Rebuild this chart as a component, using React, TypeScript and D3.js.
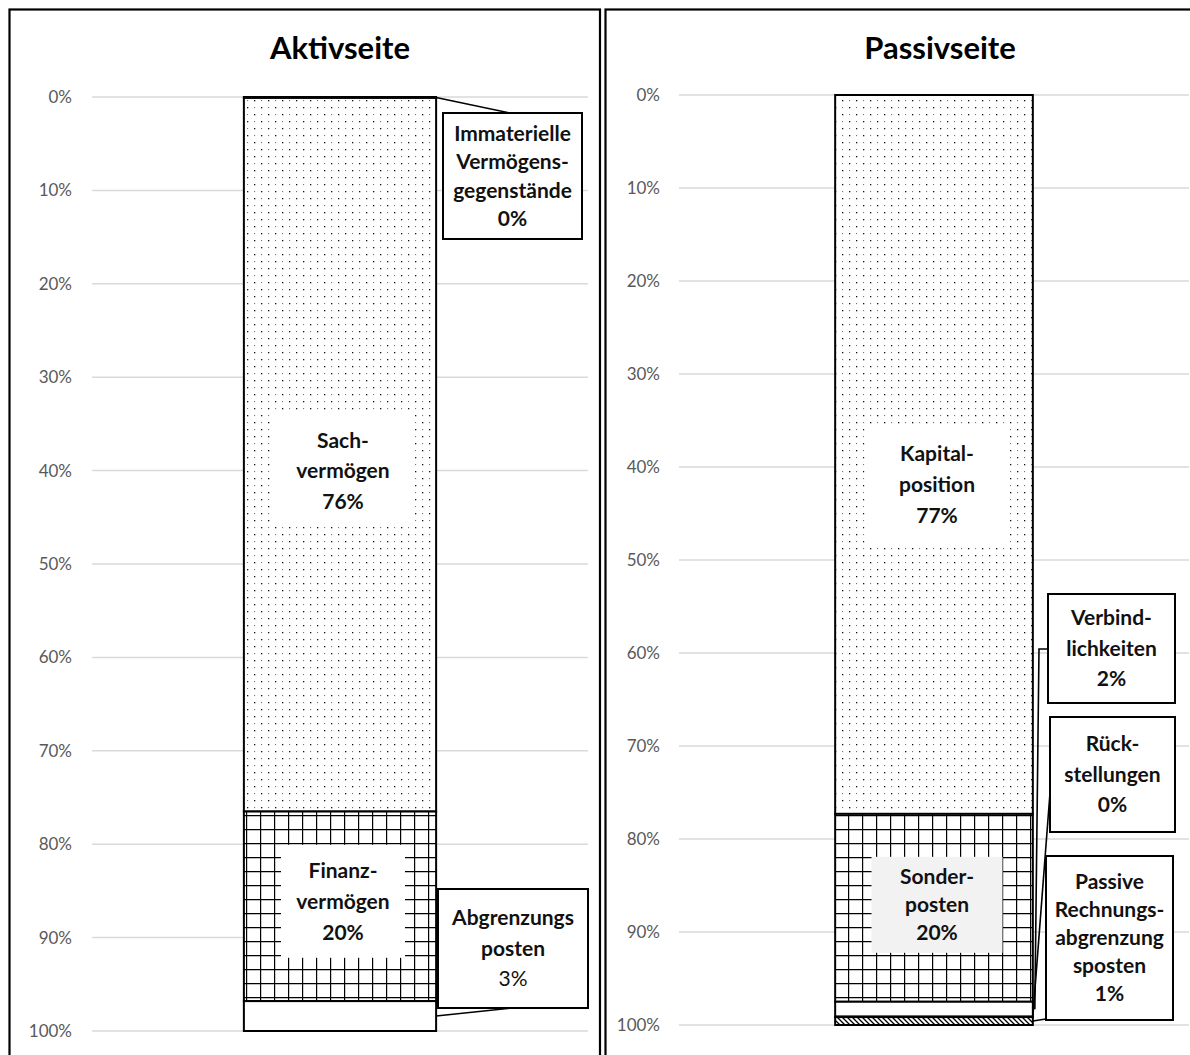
import React from "react";
import * as d3 from "d3";

// ---------- data ----------
const aktivKeys = ["immat", "sach", "finanz", "abgrenz"];
const aktivValues = [0.1, 76.4, 20.3, 3.2];
const aktivLabels = [
  ["Immaterielle", "Vermögens-", "gegenstände"],
  ["Sach-", "vermögen"],
  ["Finanz-", "vermögen"],
  ["Abgrenzungs", "posten"],
];

const passivKeys = ["kapital", "sonder", "verb", "rueck", "prap"];
const passivValues = [77.3, 20.2, 1.6, 0.05, 0.85];
const passivLabels = [
  ["Kapital-", "position"],
  ["Sonder-", "posten"],
  ["Verbind-", "lichkeiten"],
  ["Rück-", "stellungen"],
  ["Passive", "Rechnungs-", "abgrenzung", "sposten"],
];

const tickValues = [0, 10, 20, 30, 40, 50, 60, 70, 80, 90, 100];
const titles = ["Aktivseite", "Passivseite"];

// ---------- layout / style ----------
const FONT = "Lato, 'Open Sans', sans-serif";

type LabelSpec =
  | { kind: "inside"; w: number; h: number; dy: number; lh: number; bg: string }
  | {
      kind: "callout";
      box: [number, number, number, number]; // x, y, w, h
      lh: number;
      pctWeight: string;
      leader: [number, number][];
      anchorDx: number;
    };

const panels = [
  {
    title: titles[0],
    keys: aktivKeys,
    values: aktivValues,
    labels: aktivLabels,
    fills: ["url(#dots)", "url(#dots)", "url(#grid)", "#ffffff"],
    frameX: 9.5,
    frameW: 590.5,
    plotX: [92, 588],
    plotY: [97, 1031],
    tickX: 72,
    titleX: 340,
    specs: [
      { kind: "callout", box: [443, 113, 139, 126], lh: 28.5, pctWeight: "bold", leader: [[510, 113]], anchorDx: 0 },
      { kind: "inside", w: 138, h: 112, dy: 16, lh: 30.5, bg: "#ffffff" },
      { kind: "inside", w: 124, h: 113, dy: -5, lh: 31, bg: "#ffffff" },
      { kind: "callout", box: [438, 889, 150, 119], lh: 30.5, pctWeight: "normal", leader: [[512, 1008]], anchorDx: 0 },
    ] as LabelSpec[],
  },
  {
    title: titles[1],
    keys: passivKeys,
    values: passivValues,
    labels: passivLabels,
    fills: ["url(#dots)", "url(#grid)", "#ffffff", "#ffffff", "url(#hatch)"],
    frameX: 605.5,
    frameW: 600,
    plotX: [679, 1189],
    plotY: [95, 1025],
    tickX: 660,
    titleX: 940,
    specs: [
      { kind: "inside", w: 145, h: 118, dy: 30, lh: 31, bg: "#ffffff" },
      { kind: "inside", w: 131, h: 96, dy: -3, lh: 28, bg: "#f2f2f2" },
      { kind: "callout", box: [1048, 594, 127, 109], lh: 30.5, pctWeight: "bold", leader: [[1048, 649], [1039, 649]], anchorDx: 2 },
      { kind: "callout", box: [1050, 717, 125, 115], lh: 30.5, pctWeight: "bold", leader: [[1050, 793]], anchorDx: 0 },
      { kind: "callout", box: [1046, 856, 127, 164], lh: 28, pctWeight: "bold", leader: [[1046, 1019]], anchorDx: 0 },
    ] as LabelSpec[],
  },
];

function Panel({ p }: { p: (typeof panels)[number] }) {
  const y = d3.scaleLinear().domain([0, 100]).range(p.plotY);
  const x = d3.scaleBand().domain(["bar"]).range(p.plotX).paddingInner(0).paddingOuter(0.79);
  const row: Record<string, number> = {};
  p.keys.forEach((k, i) => (row[k] = p.values[i]));
  const series = d3.stack<Record<string, number>>().keys(p.keys)([row]);
  const bx = x("bar") as number;
  const bw = x.bandwidth();
  const cx = bx + bw / 2;

  return (
    <g>
      <rect x={p.frameX} y={9.5} width={p.frameW} height={1100} fill="#fff" stroke="#000" strokeWidth={2.2} />
      <text x={p.titleX} y={59} textAnchor="middle" fontFamily={FONT} fontWeight="bold" fontSize={31} fill="#000">
        {p.title}
      </text>
      {tickValues.map((t) => (
        <g key={t}>
          <line x1={p.plotX[0]} x2={p.plotX[1]} y1={y(t)} y2={y(t)} stroke="#d9d9d9" strokeWidth={1.5} />
          <text x={p.tickX} y={y(t)} dy="0.35em" textAnchor="end" fontFamily={FONT} fontSize={17} fill="#595959">
            {t}%
          </text>
        </g>
      ))}
      {series.map((s, i) => {
        const [a, b] = s[0];
        return (
          <rect
            key={s.key}
            x={bx}
            y={y(a)}
            width={bw}
            height={Math.max(0.01, y(b) - y(a))}
            fill={p.fills[i]}
            stroke="#000"
            strokeWidth={2}
          />
        );
      })}
      {series.map((s, i) => {
        const [a, b] = s[0];
        const spec = p.specs[i];
        const lines = p.labels[i];
        const pct = `${Math.round(p.values[i])}%`;
        const mid = y((a + b) / 2);
        if (spec.kind === "inside") {
          const cy = mid + spec.dy;
          const n = lines.length + 1;
          return (
            <g key={s.key}>
              <rect x={cx - spec.w / 2 + 3} y={cy - spec.h / 2} width={spec.w} height={spec.h} fill={spec.bg} />
              {[...lines, pct].map((l, j) => (
                <text
                  key={j}
                  x={cx + 3}
                  y={cy + (j - (n - 1) / 2) * spec.lh}
                  dy="0.35em"
                  textAnchor="middle"
                  fontFamily={FONT}
                  fontWeight="bold"
                  fontSize={21}
                  fill="#111"
                >
                  {l}
                </text>
              ))}
            </g>
          );
        }
        const [bxx, byy, bww, bhh] = spec.box;
        const pts: [number, number][] = [...spec.leader, [bx + bw + spec.anchorDx, mid]];
        const n = lines.length + 1;
        const ccx = bxx + bww / 2;
        const ccy = byy + bhh / 2;
        return (
          <g key={s.key}>
            <path d={d3.line()(pts) as string} fill="none" stroke="#000" strokeWidth={1.6} />
            <rect x={bxx} y={byy} width={bww} height={bhh} fill="#fff" stroke="#000" strokeWidth={2} />
            {[...lines, pct].map((l, j) => (
              <text
                key={j}
                x={ccx}
                y={ccy + (j - (n - 1) / 2) * spec.lh}
                dy="0.35em"
                textAnchor="middle"
                fontFamily={FONT}
                fontWeight={j === lines.length ? spec.pctWeight : "bold"}
                fontSize={21}
                fill="#111"
              >
                {l}
              </text>
            ))}
          </g>
        );
      })}
    </g>
  );
}

export default function App() {
  return (
    <div style={{ position: "absolute", left: 0, top: 0, width: 1190, height: 1055, overflow: "hidden", background: "#fff" }}>
      <svg width={1190} height={1055} style={{ display: "block" }}>
        <defs>
          <pattern id="dots" patternUnits="userSpaceOnUse" width={14} height={14} x={2} y={2}>
            <rect width={14} height={14} fill="#fff" />
            <rect x={0} y={0} width={1.3} height={1.3} fill="#111" />
            <rect x={7} y={7} width={1.3} height={1.3} fill="#111" />
            <rect x={7} y={0} width={1.1} height={1.1} fill="#777" />
            <rect x={0} y={7} width={1.1} height={1.1} fill="#777" />
          </pattern>
          <pattern id="grid" patternUnits="userSpaceOnUse" width={14} height={14} x={246} y={815}>
            <rect width={14} height={14} fill="#fff" />
            <path d="M0,0 V14 M0,0 H14" stroke="#000" strokeWidth={2.4} />
          </pattern>
          <pattern id="hatch" patternUnits="userSpaceOnUse" width={5} height={5}>
            <rect width={5} height={5} fill="#fff" />
            <path d="M-1,-1 L6,6 M-1,4 L1,6 M4,-1 L6,1" stroke="#000" strokeWidth={1.3} />
          </pattern>
        </defs>
        {panels.map((p) => (
          <Panel key={p.title} p={p} />
        ))}
      </svg>
    </div>
  );
}
